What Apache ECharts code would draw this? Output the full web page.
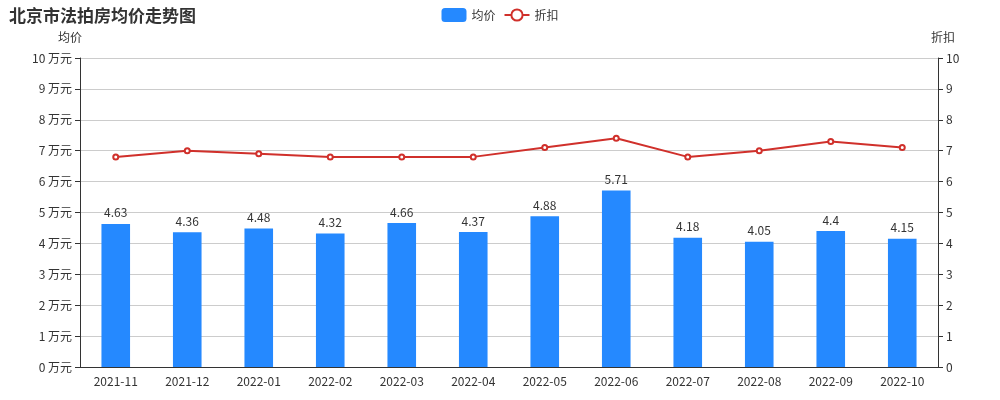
<!DOCTYPE html>
<html><head><meta charset="utf-8">
<script src="https://cdn.jsdelivr.net/npm/echarts@6/dist/echarts.min.js"></script>
<style>html,body{margin:0;padding:0;background:#fff}#c{width:1000px;height:400px}</style>
</head><body><div id="c"></div>
<script>
const months = ['2021-11','2021-12','2022-01','2022-02','2022-03','2022-04','2022-05','2022-06','2022-07','2022-08','2022-09','2022-10'];
const avgPrice = [4.63, 4.36, 4.48, 4.32, 4.66, 4.37, 4.88, 5.71, 4.18, 4.05, 4.4, 4.15];
const discount = [6.8, 7.0, 6.9, 6.8, 6.8, 6.8, 7.1, 7.4, 6.8, 7.0, 7.3, 7.1];

const chart = echarts.init(document.getElementById('c'));
const font = '"Noto Sans CJK SC", "Noto Sans", sans-serif';
chart.setOption({
    animation: false,
    textStyle: {fontFamily: font},
    title: {text: '北京市法拍房均价走势图', left: 4, top: 2,
        textStyle: {fontSize: 17, fontWeight: 'bold', color: '#333', fontFamily: font}},
    legend: {top: 3, left: 'center', itemWidth: 25, itemHeight: 14,
        textStyle: {color: '#333', fontSize: 12},
        data: ['均价', '折扣']},
    grid: {left: 80, right: 62, top: 58, bottom: 33},
    xAxis: {type: 'category', data: months,
        axisTick: {alignWithLabel: false},
        axisLine: {lineStyle: {color: '#333'}},
        axisLabel: {color: '#333', fontSize: 12}},
    yAxis: [
        {type: 'value', name: '均价', min: 0, max: 10, interval: 1,
            nameTextStyle: {color: '#333', padding: [0, 20, 0, 0]},
            axisLine: {show: true, lineStyle: {color: '#333'}},
            axisTick: {show: true},
            axisLabel: {formatter: '{value} 万元', color: '#333'},
            splitLine: {lineStyle: {color: '#ccc'}}},
        {type: 'value', name: '折扣', min: 0, max: 10, interval: 1,
            nameTextStyle: {color: '#333', padding: [0, 0, 0, 10]},
            axisLine: {show: true, lineStyle: {color: '#333'}},
            axisTick: {show: true},
            axisLabel: {color: '#333'},
            splitLine: {show: false}}
    ],
    series: [
        {name: '均价', type: 'bar', data: avgPrice, barWidth: '40%',
            itemStyle: {color: '#2589ff'},
            label: {show: true, position: 'top', color: '#333', fontSize: 12}},
        {name: '折扣', type: 'line', yAxisIndex: 1, data: discount,
            symbol: 'emptyCircle', symbolSize: 5,
            itemStyle: {color: '#d0302b'}, lineStyle: {color: '#d0302b', width: 2}}
    ]
});
</script></body></html>
